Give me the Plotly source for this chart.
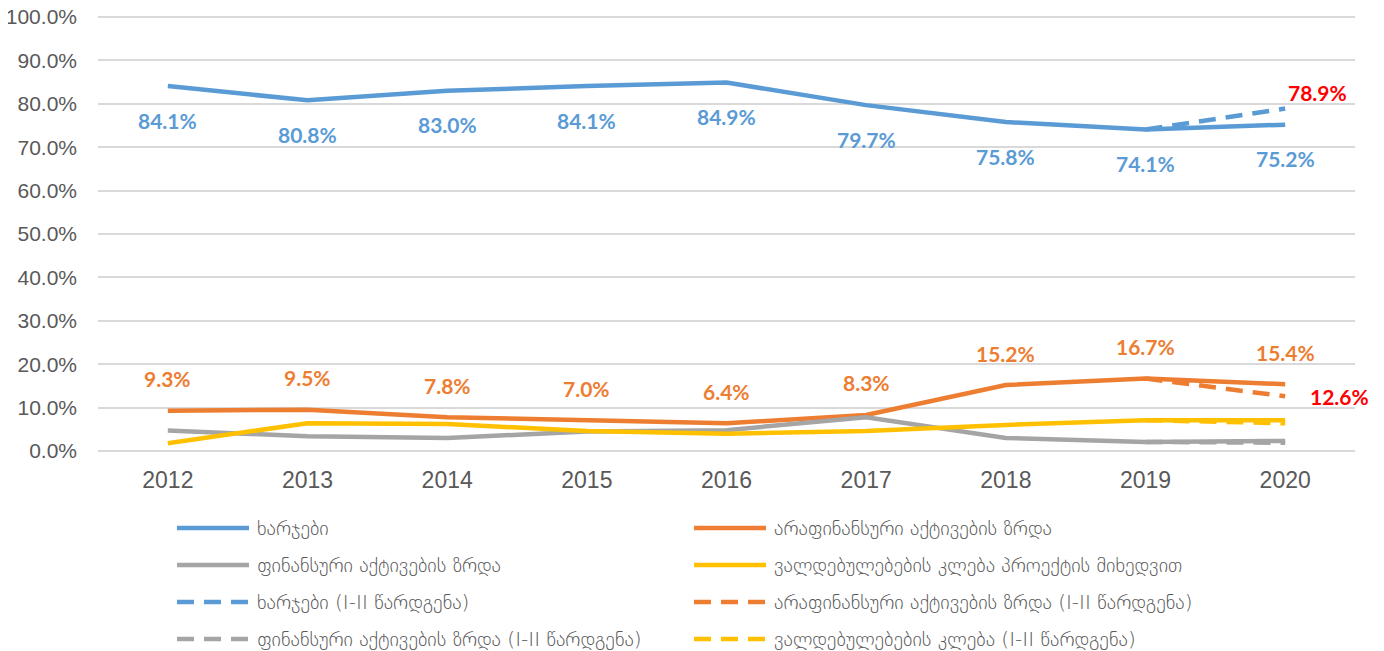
import plotly.graph_objects as go

years = ["2012", "2013", "2014", "2015", "2016", "2017", "2018", "2019", "2020"]
spending = [84.1, 80.8, 83.0, 84.1, 84.9, 79.7, 75.8, 74.1, 75.2]
nonfin = [9.3, 9.5, 7.8, 7.0, 6.4, 8.3, 15.2, 16.7, 15.4]
fin = [4.7, 3.4, 3.0, 4.5, 4.8, 7.8, 3.0, 2.1, 2.3]
liab = [1.8, 6.4, 6.2, 4.6, 4.0, 4.6, 6.0, 7.1, 7.1]

dash_years = ["2019", "2020"]
spending_d = [74.1, 78.9]
nonfin_d = [16.7, 12.6]
fin_d = [2.1, 1.9]
liab_d = [7.1, 6.4]

names = [
    "ხარჯები",
    "არაფინანსური აქტივების ზრდა",
    "ფინანსური აქტივების ზრდა",
    "ვალდებულებების კლება პროექტის მიხედვით",
    "ხარჯები (I-II წარდგენა)",
    "არაფინანსური აქტივების ზრდა (I-II წარდგენა)",
    "ფინანსური აქტივების ზრდა (I-II წარდგენა)",
    "ვალდებულებების კლება (I-II წარდგენა)",
]

BLUE = "#5B9BD5"
ORANGE = "#ED7D31"
GRAY = "#A5A5A5"
YELLOW = "#FFC000"
RED = "#FF0000"
TXT = "#595959"
DASH = "17px,10px"
W = 4.5

# figure geometry (the page has an 8px body margin)
FW, FH = 1376, 643
ML, MR, MT, MB = 90, 29, 6, 200
PW, PH = FW - ML - MR, FH - MT - MB
Y_TOP = 100.7  # a little headroom so the 100% gridline is drawn

series = [
    (years, spending, BLUE, "solid", names[0]),
    (years, nonfin, ORANGE, "solid", names[1]),
    (years, fin, GRAY, "solid", names[2]),
    (years, liab, YELLOW, "solid", names[3]),
    (dash_years, spending_d, BLUE, DASH, names[4]),
    (dash_years, nonfin_d, ORANGE, DASH, names[5]),
    (dash_years, fin_d, GRAY, DASH, names[6]),
    (dash_years, liab_d, YELLOW, DASH, names[7]),
]

fig = go.Figure()
for xs, ys, col, dash, nm in series:
    fig.add_trace(go.Scatter(
        x=xs, y=ys, mode="lines", name=nm, showlegend=False,
        line=dict(color=col, width=W, dash=dash),
    ))

lab_font = dict(family="Lato", size=21, color=BLUE, weight="bold")
for i, v in enumerate(spending):
    fig.add_annotation(x=i, y=v, xref="x", yref="y", text=f"{v:.1f}%", showarrow=False,
                       yshift=-34, font=lab_font)
for i, v in enumerate(nonfin):
    fig.add_annotation(x=i, y=v, xref="x", yref="y", text=f"{v:.1f}%", showarrow=False,
                       yshift=32, font=dict(lab_font, color=ORANGE))
last = years.index(dash_years[1])
fig.add_annotation(x=last, y=spending_d[1], xref="x", yref="y", text=f"{spending_d[1]:.1f}%",
                   showarrow=False, xshift=32, yshift=16, font=dict(lab_font, color=RED))
fig.add_annotation(x=last, y=nonfin_d[1], xref="x", yref="y", text=f"{nonfin_d[1]:.1f}%",
                   showarrow=False, xshift=54, yshift=0, font=dict(lab_font, color=RED))

# legend (2 columns x 4 rows) drawn below the plot
col_line_x = [169, 686]       # figure pixels, line start
line_len = 72
text_gap = 6
row_y = [520, 557, 594, 631]  # figure pixels, row centre


def px_x(p):
    return (p - ML) / PW


def px_y(p):
    return (FH - MB - p) / PH


for i, (xs, ys, col, dash, nm) in enumerate(series):
    r, c = divmod(i, 2)
    x0 = col_line_x[c]
    yy = px_y(row_y[r])
    fig.add_shape(type="line", xref="paper", yref="paper",
                  x0=px_x(x0), x1=px_x(x0 + line_len), y0=yy, y1=yy,
                  line=dict(color=col, width=W, dash=dash))
    fig.add_annotation(xref="paper", yref="paper", x=px_x(x0 + line_len + text_gap), y=yy,
                       xanchor="left", yanchor="middle", showarrow=False, text=nm,
                       font=dict(family="DejaVu Sans", size=20, color=TXT, weight=300))

fig.update_layout(
    width=FW, height=FH,
    margin=dict(l=ML, r=MR, t=MT, b=MB, autoexpand=False),
    paper_bgcolor="white", plot_bgcolor="white",
    font=dict(family="Liberation Sans", color=TXT),
    showlegend=False,
)
fig.update_xaxes(
    type="category", range=[-0.5, 8.5], showgrid=False, showline=False,
    zeroline=False, tickfont=dict(family="Liberation Sans", size=23, color=TXT),
    ticklabelstandoff=13, ticks="", automargin=False,
)
fig.update_yaxes(
    range=[0, Y_TOP], dtick=10, tick0=0, tickformat=".1f", ticksuffix="%",
    showgrid=True, gridcolor="#D9D9D9", gridwidth=1.5,
    zeroline=True, zerolinecolor="#D9D9D9", zerolinewidth=1.5,
    showline=False, tickfont=dict(family="Liberation Sans", size=21, color=TXT),
    ticklabelstandoff=20, ticks="", automargin=False, ticklabeloverflow="allow",
)

fig.write_html("out.html")
